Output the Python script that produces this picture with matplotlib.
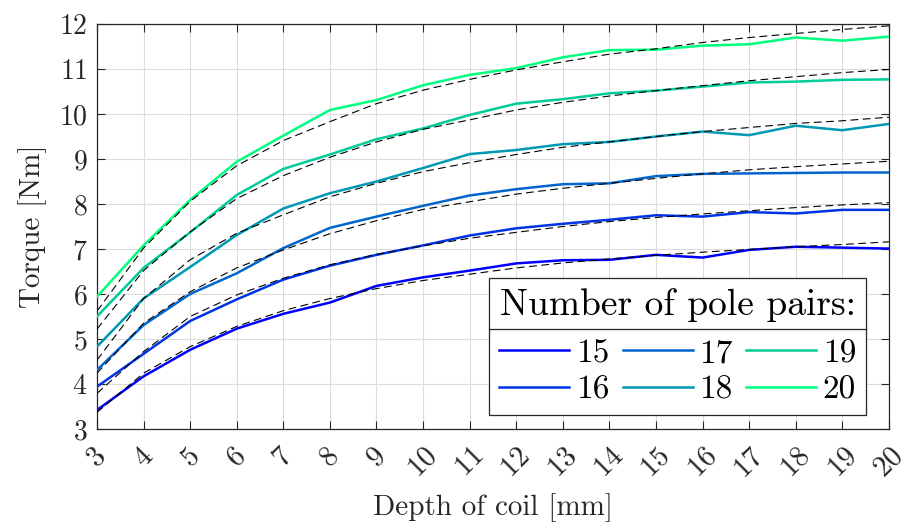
import numpy as np
import matplotlib
matplotlib.use('Agg')
import matplotlib.pyplot as plt
from matplotlib.lines import Line2D

# depth of coil [mm] and measured torque [Nm] for each number of pole pairs
depth = [3, 4, 5, 6, 7, 8, 9, 10, 11, 12, 13, 14, 15, 16, 17, 18, 19, 20]
pole_pairs = [15, 16, 17, 18, 19, 20]

torque_15 = [3.42, 4.17, 4.76, 5.23, 5.56, 5.81, 6.18, 6.37, 6.52, 6.68, 6.75, 6.76, 6.87, 6.81, 6.98, 7.05, 7.03, 7.01]
torque_16 = [3.94, 4.67, 5.40, 5.88, 6.32, 6.63, 6.87, 7.08, 7.30, 7.46, 7.56, 7.65, 7.75, 7.72, 7.82, 7.79, 7.87, 7.87]
torque_17 = [4.31, 5.31, 6.00, 6.46, 7.02, 7.47, 7.72, 7.96, 8.19, 8.33, 8.44, 8.46, 8.62, 8.67, 8.68, 8.69, 8.70, 8.70]
torque_18 = [4.83, 5.90, 6.60, 7.31, 7.90, 8.24, 8.50, 8.80, 9.11, 9.20, 9.33, 9.38, 9.50, 9.61, 9.53, 9.74, 9.64, 9.78]
torque_19 = [5.50, 6.58, 7.37, 8.20, 8.78, 9.10, 9.44, 9.68, 9.98, 10.23, 10.33, 10.46, 10.52, 10.61, 10.70, 10.72, 10.76, 10.77]
torque_20 = [5.94, 7.08, 8.09, 8.94, 9.52, 10.09, 10.31, 10.64, 10.87, 11.02, 11.26, 11.42, 11.43, 11.52, 11.55, 11.70, 11.63, 11.72]

# fitted curves (dashed), read at each depth
fit_15 = [3.37, 4.24, 4.83, 5.28, 5.63, 5.90, 6.12, 6.30, 6.44, 6.58, 6.69, 6.78, 6.86, 6.93, 6.99, 7.05, 7.10, 7.16]
fit_16 = [3.79, 4.72, 5.50, 5.98, 6.35, 6.65, 6.88, 7.07, 7.24, 7.37, 7.50, 7.61, 7.70, 7.78, 7.85, 7.92, 7.98, 8.03]
fit_17 = [4.24, 5.35, 6.05, 6.58, 6.98, 7.34, 7.63, 7.88, 8.05, 8.22, 8.35, 8.46, 8.57, 8.67, 8.76, 8.83, 8.89, 8.95]
fit_18 = [4.53, 5.90, 6.76, 7.35, 7.76, 8.16, 8.46, 8.72, 8.92, 9.10, 9.26, 9.38, 9.50, 9.61, 9.70, 9.79, 9.85, 9.93]
fit_19 = [5.22, 6.52, 7.38, 8.12, 8.63, 9.04, 9.38, 9.66, 9.87, 10.09, 10.26, 10.40, 10.52, 10.63, 10.74, 10.83, 10.92, 10.99]
fit_20 = [5.62, 7.02, 8.06, 8.85, 9.41, 9.83, 10.23, 10.53, 10.77, 10.98, 11.16, 11.33, 11.45, 11.59, 11.70, 11.79, 11.88, 11.96]

torques = [torque_15, torque_16, torque_17, torque_18, torque_19, torque_20]
fits = [fit_15, fit_16, fit_17, fit_18, fit_19, fit_20]

plt.rcParams['font.family'] = ['cmr10', 'DejaVu Serif']
plt.rcParams['mathtext.fontset'] = 'cm'
plt.rcParams['axes.unicode_minus'] = False
plt.rcParams['axes.formatter.use_mathtext'] = True

fig = plt.figure(figsize=(9.08, 5.28), dpi=100)
ax = fig.add_axes([0.1068, 0.1875, 0.8722, 0.767])

colors = plt.cm.winter(np.linspace(0, 1, len(pole_pairs)))

handles = []
for i in range(len(pole_pairs)):
    h, = ax.plot(depth, torques[i], color=colors[i], lw=1.8, label=str(pole_pairs[i]), zorder=3)
    handles.append(h)
for i in range(len(pole_pairs)):
    ax.plot(depth, fits[i], color='black', lw=0.8, ls=(0, (7, 4)), zorder=4)

ax.set_xlim(3, 20)
ax.set_ylim(3, 12)
ax.set_xticks(depth)
ax.set_yticks(range(3, 13))
ax.grid(True, color='#dcdcdc', lw=0.8)
ax.set_axisbelow(True)
ax.tick_params(direction='in', length=6, width=0.8, top=True, right=True,
               labelsize=20, colors='#262626', labelcolor='#262626')
ax.tick_params(axis='x', labelrotation=45, pad=10, labelsize=21)
ax.tick_params(axis='y', pad=7)
for s in ax.spines.values():
    s.set_color('#262626')
    s.set_linewidth(0.9)

ax.set_xlabel('Depth of coil [mm]', fontsize=21, color='#262626', labelpad=7)
ax.set_ylabel('Torque [Nm]', fontsize=21, color='#262626', labelpad=8)

leg = ax.legend(handles=handles, ncol=3, loc='lower right', bbox_to_anchor=(0.971, 0.035),
                borderaxespad=0, fontsize=24, title='Number of pole pairs:', title_fontsize=27,
                handlelength=2.1, handletextpad=0.2, columnspacing=0.4, labelspacing=0.22,
                borderpad=0.3, fancybox=False, framealpha=1, edgecolor='#262626')
leg.get_frame().set_linewidth(0.9)
leg._legend_box.sep = 12

# separator line under the legend title, as in the original
fig.canvas.draw()
renderer = fig.canvas.get_renderer()
fb = leg.get_frame().get_window_extent(renderer)
tb = leg.get_title().get_window_extent(renderer)
ysep = tb.y0 - 7
inv = fig.transFigure.inverted()
p0 = inv.transform((fb.x0, ysep))
p1 = inv.transform((fb.x1, ysep))
fig.add_artist(Line2D([p0[0], p1[0]], [p0[1], p1[1]], color='#262626', lw=0.9, zorder=10))

fig.savefig('out.png', dpi=100)
